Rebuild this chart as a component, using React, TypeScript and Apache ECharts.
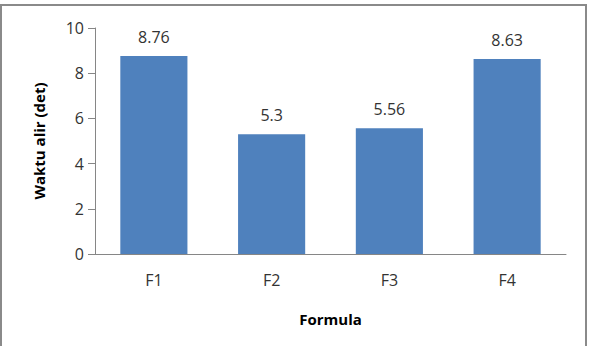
import React, { useEffect, useRef } from "react";
import * as echarts from "echarts";

const categories = ["F1", "F2", "F3", "F4"];
const values = [8.76, 5.3, 5.56, 8.63];
const yTicks = [0, 2, 4, 6, 8, 10];

export default function App() {
  const ref = useRef<HTMLDivElement>(null);
  useEffect(() => {
    if (!ref.current) return;
    const chart = echarts.init(ref.current, null, { renderer: "svg" });
    const font = "'Open Sans', 'Noto Sans', sans-serif";
    chart.setOption({
      animation: false,
      backgroundColor: "#ffffff",
      textStyle: { fontFamily: font },
      graphic: [
        {
          type: "rect",
          shape: { x: 1, y: 5, width: 585, height: 345 },
          style: { fill: "none", stroke: "#8a8a8a", lineWidth: 2 },
          silent: true,
        },
      ],
      grid: { left: 95, right: 27, top: 28, bottom: 92 },
      xAxis: {
        type: "category",
        data: categories,
        name: "Formula",
        nameLocation: "middle",
        nameGap: 57,
        nameTextStyle: { fontFamily: font, fontSize: 15, fontWeight: "bold", color: "#000" },
        axisLine: { lineStyle: { color: "#868686", width: 1 } },
        axisTick: { show: false },
        axisLabel: { margin: 18, fontSize: 16, color: "#333", fontFamily: font },
      },
      yAxis: {
        type: "value",
        min: yTicks[0],
        max: yTicks[yTicks.length - 1],
        interval: 2,
        name: "Waktu alir (det)",
        nameLocation: "middle",
        nameGap: 49,
        nameTextStyle: { fontFamily: font, fontSize: 15, fontWeight: "bold", color: "#000" },
        axisLine: { show: true, lineStyle: { color: "#868686", width: 1 } },
        axisTick: { show: true, length: 7, lineStyle: { color: "#868686" } },
        axisLabel: { margin: 11, fontSize: 16, color: "#333", fontFamily: font },
        splitLine: { show: false },
      },
      series: [
        {
          type: "bar",
          data: values,
          barCategoryGap: "43%",
          itemStyle: { color: "#4F81BD" },
          label: {
            show: true,
            position: "top",
            distance: 11,
            fontSize: 16,
            color: "#333",
            fontFamily: font,
          },
        },
      ],
    });
    return () => chart.dispose();
  }, []);
  return (
    <div
      ref={ref}
      style={{ position: "absolute", left: 0, top: 0, width: 593, height: 346 }}
    />
  );
}
